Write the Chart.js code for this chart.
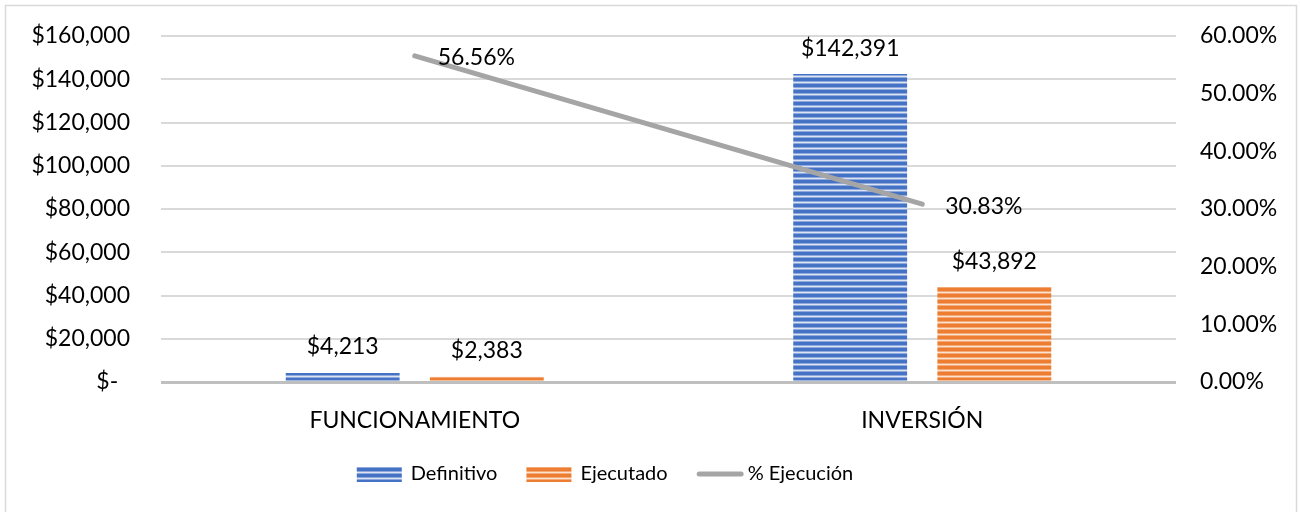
<!DOCTYPE html>
<html>
<head>
<meta charset="utf-8">
<script src="https://cdn.jsdelivr.net/npm/chart.js@4.4.1/dist/chart.umd.min.js"></script>
<style>
  html, body { margin: 0; padding: 0; background: #fff; }
  #wrap { width: 1300px; height: 512px; }
</style>
</head>
<body>
<div id="wrap"><canvas id="grafico" width="1300" height="512"></canvas></div>
<script>
// datos
const categorias = ['FUNCIONAMIENTO', 'INVERSIÓN'];
const definitivo = [4213, 142391];
const ejecutado = [2383, 43892];
const ejecucion = [56.56, 30.83];
const nombres = ['Definitivo', 'Ejecutado', '% Ejecución'];
const ticksPesos = [0, 20000, 40000, 60000, 80000, 100000, 120000, 140000, 160000];
const ticksPct = [0, 10, 20, 30, 40, 50, 60];

const azul = '#4472C4', naranja = '#ED7D31', gris = '#A5A5A5';
const fontNum = 'Lato', fontTxt = 'Lato';

// rayas horizontales como en excel
function rayas(c1, c2, c3) {
    let cv = document.createElement('canvas');
    cv.width = 6; cv.height = 6;
    let g = cv.getContext('2d');
    g.fillStyle = c1; g.fillRect(0, 0, 6, 3);
    g.fillStyle = c2; g.fillRect(0, 3, 6, 1);
    g.fillStyle = c3; g.fillRect(0, 4, 6, 1);
    g.fillStyle = c2; g.fillRect(0, 5, 6, 1);
    return g.createPattern(cv, 'repeat');
}

const patAzul = rayas(azul, '#8FA9DC', '#DCE4F4');
const patNaranja = rayas(naranja, '#F3AA78', '#FCE2D0');

function pesos(v) {
    if (v === 0) return '$-  ';
    return '$' + v.toLocaleString('en-US');
}

const marco = {
    id: 'marco',
    beforeDraw(chart) {
        const ctx = chart.ctx;
        ctx.save();
        ctx.fillStyle = '#fff';
        ctx.fillRect(0, 0, chart.width, chart.height);
        ctx.strokeStyle = '#D9D9D9';
        ctx.lineWidth = 1.5;
        ctx.strokeRect(5.5, 5.5, 1291, 520);
        ctx.restore();
    }
};

// leyenda dibujada a mano, como la de excel
const leyenda = {
    id: 'leyenda',
    afterDraw(chart) {
        const ctx = chart.ctx;
        const y = 474, centro = 605;
        ctx.save();
        ctx.font = '20px ' + fontTxt;
        ctx.textBaseline = 'middle';
        ctx.textAlign = 'left';
        let items = chart.data.datasets.map(ds => ({
            ds: ds,
            w: ds.type === 'line' ? 47 : 45,
            gap: ds.type === 'line' ? 4 : 9,
            tw: ctx.measureText(ds.label).width
        }));
        let total = 0;
        items.forEach((it, i) => { total += it.w + it.gap + it.tw + (i < items.length - 1 ? 29 : 0); });
        let x = centro - total / 2;
        items.forEach(function (it) {
            if (it.ds.type === 'line') {
                ctx.strokeStyle = it.ds.borderColor;
                ctx.lineWidth = 5;
                ctx.lineCap = 'round';
                ctx.beginPath();
                ctx.moveTo(x + 2.5, y);
                ctx.lineTo(x + it.w - 2.5, y);
                ctx.stroke();
            } else {
                ctx.fillStyle = it.ds.backgroundColor;
                ctx.fillRect(x, y - 7, it.w, 15);
            }
            x += it.w + it.gap;
            ctx.fillStyle = '#000';
            ctx.fillText(it.ds.label, x, y);
            x += it.tw + 29;
        });
        ctx.restore();
    }
};

const etiquetas = {
    id: 'etiquetas',
    afterDatasetsDraw(chart) {
        const ctx = chart.ctx;
        ctx.save();
        ctx.fillStyle = '#000';
        ctx.font = '23px ' + fontNum;
        chart.data.datasets.forEach(function (ds, i) {
            let meta = chart.getDatasetMeta(i);
            meta.data.forEach(function (el, j) {
                if (ds.type === 'line') {
                    ctx.textAlign = 'left';
                    ctx.textBaseline = 'middle';
                    ctx.fillText(ds.data[j].toFixed(2) + '%', el.x + 23, el.y + 2);
                } else {
                    ctx.textAlign = 'center';
                    ctx.textBaseline = 'middle';
                    ctx.fillText(pesos(ds.data[j]), el.x, el.y - 26);
                }
            });
        });
        ctx.restore();
    }
};

// el padding de las etiquetas no debe empujar el area hacia abajo
function ajustarEje(ancho) {
    return function (scale) {
        scale.width = ancho;
        scale.paddingTop = 12;
        scale.paddingBottom = 12;
    };
}

new Chart(document.getElementById('grafico'), {
    data: {
        labels: categorias,
        datasets: [{
            type: 'bar',
            label: nombres[0],
            data: definitivo,
            backgroundColor: patAzul,
            yAxisID: 'y',
            order: 1,
            barPercentage: 0.79,
            categoryPercentage: 0.568
        }, {
            type: 'bar',
            label: nombres[1],
            data: ejecutado,
            backgroundColor: patNaranja,
            yAxisID: 'y',
            order: 1,
            barPercentage: 0.79,
            categoryPercentage: 0.568
        }, {
            type: 'line',
            label: nombres[2],
            data: ejecucion,
            borderColor: gris,
            backgroundColor: gris,
            borderWidth: 5,
            borderCapStyle: 'round',
            pointRadius: 0,
            yAxisID: 'y1',
            order: 0
        }]
    },
    options: {
        responsive: false,
        animation: false,
        layout: { padding: { top: 36, left: 0, right: 0, bottom: 0 } },
        plugins: {
            tooltip: { enabled: false },
            legend: { display: false }
        },
        scales: {
            x: {
                grid: { display: false },
                border: { display: false },
                ticks: { color: '#000', padding: 17, font: { family: fontTxt, size: 23 } },
                afterFit(scale) { scale.height = 130; }
            },
            y: {
                position: 'left',
                min: 0,
                max: 160000,
                afterBuildTicks(scale) {
                    scale.ticks = ticksPesos.map(v => ({ value: v }));
                },
                grid: {
                    drawTicks: false,
                    color: ctx => ctx.tick && ctx.tick.value === 0 ? '#BFBFBF' : '#D9D9D9',
                    lineWidth: ctx => ctx.tick && ctx.tick.value === 0 ? 3 : 2
                },
                border: { display: false },
                ticks: {
                    color: '#000',
                    padding: 31,
                    font: { family: fontNum, size: 23 },
                    callback: v => pesos(v)
                },
                afterFit: ajustarEje(161)
            },
            y1: {
                position: 'right',
                min: 0,
                max: 60,
                afterBuildTicks(scale) {
                    scale.ticks = ticksPct.map(v => ({ value: v }));
                },
                grid: { display: false, drawTicks: false },
                border: { display: false },
                ticks: {
                    color: '#000',
                    padding: 24,
                    crossAlign: 'near',
                    font: { family: fontNum, size: 23 },
                    callback: v => v.toFixed(2) + '%'
                },
                afterFit: ajustarEje(124)
            }
        }
    },
    plugins: [marco, etiquetas, leyenda]
});
</script>
</body>
</html>
